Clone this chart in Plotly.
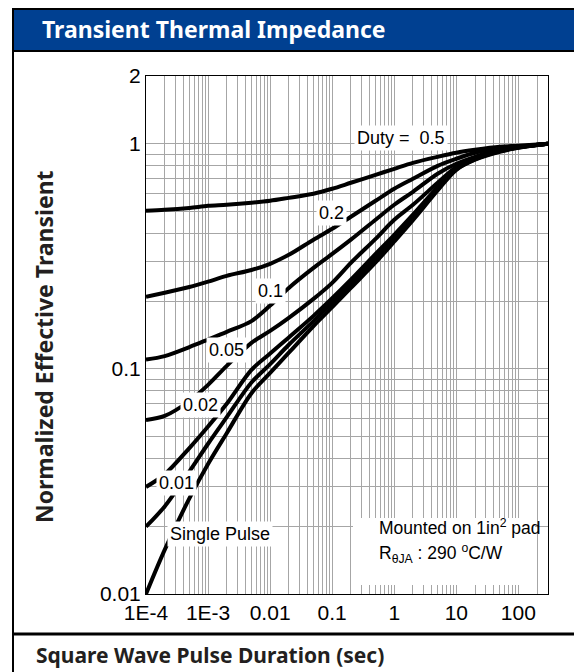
import plotly.graph_objects as go
import numpy as np

# ---------------- data ----------------
PULSE_SEC = [1e-4, 2e-4, 5e-4, 1e-3, 2e-3, 5e-3, 0.01, 0.02, 0.05, 0.1,
             0.2, 0.5, 1, 2, 5, 10, 20, 50, 100, 300]

DUTY_050 = [0.504, 0.509, 0.519, 0.530, 0.536, 0.547, 0.558, 0.575, 0.600, 0.631,
            0.671, 0.728, 0.774, 0.823, 0.875, 0.912, 0.940, 0.970, 0.980, 1.0]
DUTY_020 = [0.209, 0.218, 0.231, 0.244, 0.259, 0.275, 0.293, 0.321, 0.375, 0.419,
            0.474, 0.558, 0.631, 0.699, 0.798, 0.858, 0.912, 0.960, 0.970, 1.0]
DUTY_010 = [0.110, 0.114, 0.125, 0.135, 0.146, 0.163, 0.191, 0.229, 0.281, 0.324,
            0.375, 0.460, 0.536, 0.612, 0.736, 0.815, 0.875, 0.940, 0.970, 1.0]
DUTY_005 = [0.0593, 0.0618, 0.0720, 0.0849, 0.1031, 0.1305, 0.1475, 0.1686, 0.2047, 0.2411,
            0.2958, 0.3782, 0.4595, 0.5356, 0.671, 0.790, 0.867, 0.931, 0.965, 1.0]
DUTY_002 = [0.0299, 0.0340, 0.0445, 0.0555, 0.0700, 0.0990, 0.117, 0.138, 0.172, 0.206,
            0.249, 0.324, 0.394, 0.484, 0.642, 0.778, 0.862, 0.929, 0.964, 1.0]
DUTY_001 = [0.0199, 0.0245, 0.0350, 0.0465, 0.0610, 0.0870, 0.105, 0.128, 0.163, 0.197,
            0.238, 0.310, 0.382, 0.470, 0.632, 0.770, 0.853, 0.925, 0.962, 1.0]
SINGLE   = [0.0100, 0.0157, 0.0266, 0.0378, 0.0518, 0.0780, 0.0960, 0.118, 0.155, 0.188,
            0.229, 0.297, 0.368, 0.458, 0.620, 0.766, 0.849, 0.921, 0.960, 1.0]

SERIES = [("0.5", DUTY_050), ("0.2", DUTY_020), ("0.1", DUTY_010), ("0.05", DUTY_005),
          ("0.02", DUTY_002), ("0.01", DUTY_001), ("Single Pulse", SINGLE)]

X_TICKVALS = [1e-4, 1e-3, 0.01, 0.1, 1, 10, 100]
X_TICKTEXT = ["1E-4", "1E-3", "0.01", "0.1", "1", "10", "100"]
Y_TICKVALS = [0.01, 0.1, 1, 2]
Y_TICKTEXT = ["0.01", "0.1", "1", "2"]

# label positions (sec, value)
LABELS = [("Duty =  0.5", 1.3, 1.063), ("0.2", 0.098, 0.493), ("0.1", 0.0102, 0.222),
          ("0.05", 0.00195, 0.121), ("0.02", 0.00076, 0.069), ("0.01", 0.000306, 0.0311),
          ("Single Pulse", 0.00158, 0.0185)]

W, H = 574, 672
L, R, T, B = 146, 26, 76, 78
PW, PH = W - L - R, H - T - B


def px(xp):
    return (xp - L) / PW


def py(yp):
    return (H - B - yp) / PH


SANS = "Liberation Sans, Arial, sans-serif"
BOLD = "Noto Sans, Open Sans, sans-serif"
DARK = "#231f20"
GRID = "#a6a6a6"

fig = go.Figure()
for name, ys in SERIES:
    fig.add_trace(go.Scatter(x=PULSE_SEC, y=ys, mode="lines", name=name,
                             line=dict(color="black", width=4, shape="spline", smoothing=0.9),
                             showlegend=False, hoverinfo="skip"))

minor_x = [m * 10.0 ** e for e in range(-4, 3) for m in range(2, 10) if m * 10.0 ** e <= 300]
minor_y = [m * 10.0 ** e for e in range(-2, 0) for m in range(2, 10)]

fig.update_xaxes(type="log", range=[-4, np.log10(300)], tickvals=X_TICKVALS, ticktext=X_TICKTEXT,
                 showgrid=True, gridcolor=GRID, gridwidth=1,
                 minor=dict(tickvals=minor_x, showgrid=True, gridcolor=GRID, gridwidth=1, ticks=""),
                 showline=True, linecolor="black", linewidth=1, mirror=True, ticks="",
                 tickfont=dict(family=SANS, size=21, color="black"), zeroline=False)
fig.update_yaxes(type="log", range=[-2, np.log10(2)], tickvals=Y_TICKVALS, ticktext=Y_TICKTEXT,
                 showgrid=True, gridcolor=GRID, gridwidth=1,
                 minor=dict(tickvals=minor_y, showgrid=True, gridcolor=GRID, gridwidth=1, ticks=""),
                 showline=True, linecolor="black", linewidth=1, mirror=True, ticks="",
                 tickfont=dict(family=SANS, size=21, color="black"), zeroline=False)

annotations = []
for text, xs, yv in LABELS:
    annotations.append(dict(x=np.log10(xs), y=np.log10(yv), xref="x", yref="y", text=text,
                            showarrow=False, bgcolor="white", borderpad=2,
                            font=dict(family=SANS, size=18, color="black")))

# Mounted box text
annotations.append(dict(x=px(377), y=py(540), xref="paper", yref="paper", xanchor="left",
                        text="Mounted on 1in<sup>2</sup> pad", showarrow=False,
                        font=dict(family=SANS, size=17.5, color="black")))
annotations.append(dict(x=px(377), y=py(568), xref="paper", yref="paper", xanchor="left",
                        text="R<sub>θJA</sub> : 290 <sup>o</sup>C/W", showarrow=False,
                        font=dict(family=SANS, size=17.5, color="black")))

# titles
annotations.append(dict(x=px(40), y=py(29), xref="paper", yref="paper", xanchor="left",
                        yanchor="middle", text="Transient Thermal Impedance", showarrow=False,
                        font=dict(family=BOLD, size=23, color="white", weight="bold")))
annotations.append(dict(x=px(44), y=py(347), xref="paper", yref="paper", xanchor="center",
                        yanchor="middle", textangle=-90, text="Normalized Effective Transient",
                        showarrow=False, font=dict(family=BOLD, size=23, color=DARK, weight="bold")))
annotations.append(dict(x=px(34), y=py(655), xref="paper", yref="paper", xanchor="left",
                        yanchor="middle", text="Square Wave Pulse Duration (sec)",
                        showarrow=False, font=dict(family=BOLD, size=21, color=DARK, weight="bold")))

shapes = [
    dict(type="rect", xref="paper", yref="paper", x0=px(13), x1=px(576), y0=py(51), y1=py(9),
         fillcolor="#004091", line=dict(width=0), layer="above"),
    dict(type="line", xref="paper", yref="paper", x0=px(13), x1=px(576), y0=py(9), y1=py(9),
         line=dict(color="black", width=2), layer="above"),
    dict(type="line", xref="paper", yref="paper", x0=px(13), x1=px(576), y0=py(51), y1=py(51),
         line=dict(color="black", width=2), layer="above"),
    dict(type="line", xref="paper", yref="paper", x0=px(13), x1=px(13), y0=py(8), y1=py(680),
         line=dict(color="black", width=2), layer="above"),
    dict(type="line", xref="paper", yref="paper", x0=px(13), x1=px(576), y0=py(634), y1=py(634),
         line=dict(color="black", width=3), layer="above"),
    dict(type="rect", xref="paper", yref="paper", x0=px(353), x1=px(535), y0=py(585), y1=py(518),
         fillcolor="white", line=dict(width=0), layer="above"),
]

fig.update_layout(width=W, height=H, margin=dict(l=L, r=R, t=T, b=B, pad=0),
                  paper_bgcolor="white", plot_bgcolor="white",
                  annotations=annotations, shapes=shapes, showlegend=False)

fig.write_html("out.html", config={"displayModeBar": False},
               post_script="document.body.style.margin='0px';")
